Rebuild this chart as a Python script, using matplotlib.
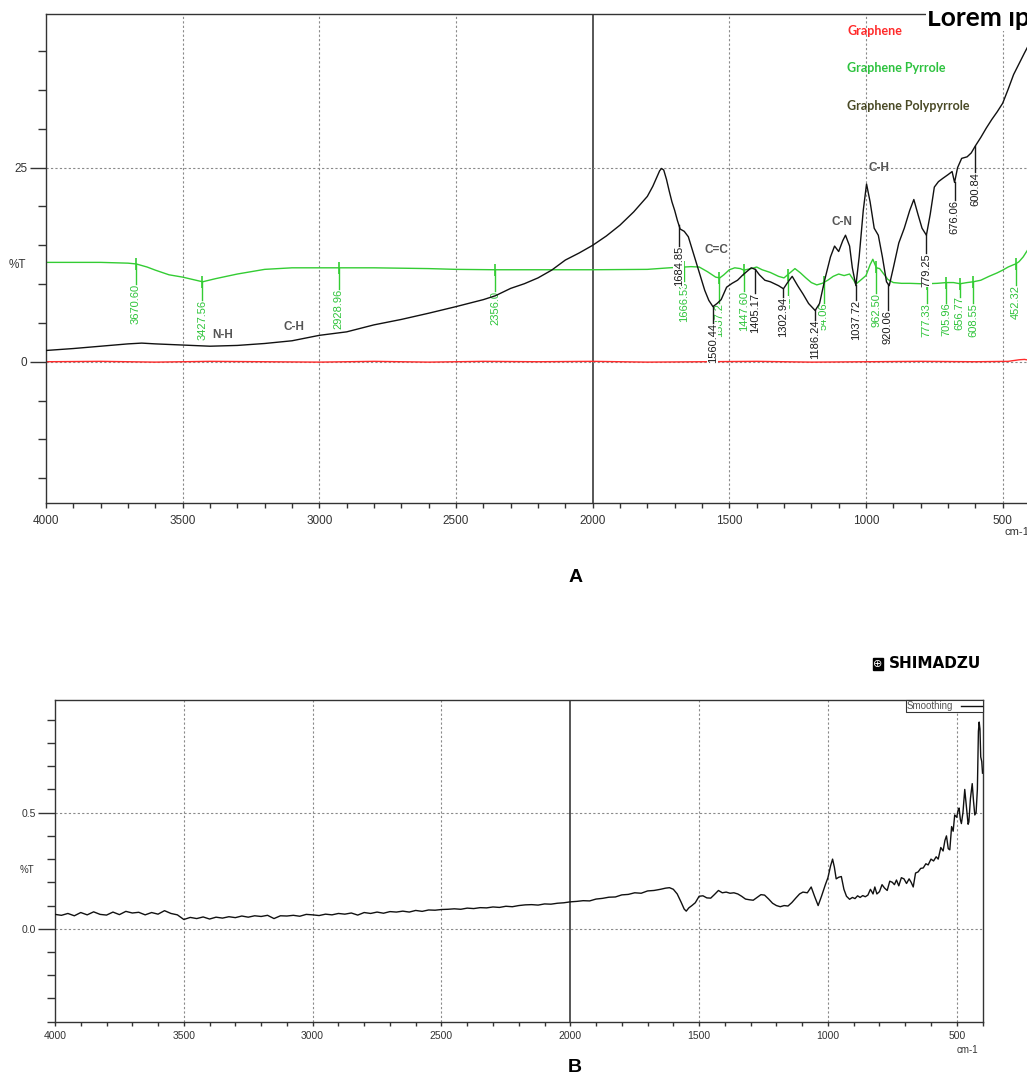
import numpy as np
import matplotlib.pyplot as plt
from matplotlib.patches import Rectangle

# ---- panel A : FTIR spectra (wavenumber cm-1 / %T) ----
wn_gppy = [4000, 3900, 3800, 3700, 3650, 3600, 3500, 3400, 3300, 3200, 3100, 3000, 2900, 2800,
           2700, 2600, 2500, 2400, 2356, 2300, 2250, 2200, 2150, 2100, 2050, 2000, 1950, 1900,
           1850, 1800, 1780, 1765, 1755, 1748, 1740, 1730, 1720, 1710, 1700, 1690, 1680, 1665,
           1650, 1630, 1610, 1590, 1575, 1560,
           1545, 1530, 1510, 1490, 1470, 1450, 1420, 1405, 1390, 1370, 1350, 1320, 1302, 1285,
           1270, 1250, 1230, 1210, 1186, 1170, 1150, 1130, 1115, 1100, 1085, 1075, 1060, 1050,
           1037, 1025, 1010, 998, 985, 970, 955, 940, 925, 915, 900, 880, 860, 840, 825, 810,
           795, 779, 765, 750, 735, 720, 700, 685, 676, 665, 650, 630, 615, 600, 580, 560, 540,
           520, 500, 480, 460, 440, 420, 405]
t_gppy = [1.45, 1.7, 2.0, 2.3, 2.4, 2.3, 2.15, 2.0, 2.1, 2.35, 2.7, 3.4, 3.85, 4.75,
          5.45, 6.25, 7.1, 8.0, 8.5, 9.45, 10.05, 10.8, 11.8, 13.1, 14.0, 15.0, 16.2, 17.6,
          19.3, 21.3, 22.6, 23.8, 24.6, 24.9, 24.7, 23.5, 22.0, 20.6, 19.5, 18.2, 17.1, 16.8,
          16.1, 13.8, 11.5, 9.2, 7.9, 7.1,
          7.5, 8.0, 9.6, 10.1, 10.5, 11.2, 12.1, 11.9, 11.2, 10.5, 10.3, 9.8, 9.4, 10.3,
          11.0, 9.8, 8.7, 7.5, 6.6, 7.5, 10.7, 13.5, 14.9, 14.2, 15.6, 16.3, 14.9, 12.1,
          9.8, 13.5, 19.5, 22.9, 20.6, 17.2, 16.3, 13.5, 10.3, 9.8, 12.1, 15.3, 17.2, 19.5, 20.9, 19.0,
          17.2, 16.3, 19.0, 22.5, 23.2, 23.6, 24.1, 24.5, 23.1, 25.0, 26.2, 26.4, 26.9, 27.8, 28.9, 30.1, 31.2,
          32.2, 33.3, 35.1, 37.0, 38.4, 39.8, 40.8]

wn_pyr = [4000, 3800, 3700, 3670, 3630, 3600, 3550, 3500, 3427, 3380, 3300, 3200, 3100, 3000,
          2929, 2800, 2600, 2500, 2356, 2200, 2000, 1800, 1720, 1666, 1640, 1610, 1580, 1550,
          1535, 1520, 1500, 1480, 1460, 1447, 1420, 1400, 1380, 1350, 1320, 1300, 1280, 1260,
          1240, 1220, 1200, 1180, 1160, 1140, 1120, 1100, 1080, 1060, 1045, 1037, 1020, 1000,
          985, 975, 962, 950, 935, 920, 900, 870, 840, 800, 777, 740, 705, 680, 656, 630, 608,
          580, 550, 520, 500, 480, 460, 452, 440, 425, 405]
t_pyr = [12.8, 12.8, 12.7, 12.6, 12.2, 11.8, 11.2, 10.9, 10.3, 10.7, 11.3, 11.9, 12.1, 12.1,
         12.1, 12.1, 12.0, 11.9, 11.85, 11.85, 11.85, 11.9, 12.1, 12.2, 12.25, 12.2, 11.6, 10.9,
         10.8, 11.2, 11.85, 12.1, 12.0, 11.8, 12.0, 12.2, 11.85, 11.5, 11.0, 10.8, 11.4, 12.0,
         11.45, 10.8, 10.2, 9.9, 10.1, 10.5, 11.0, 11.3, 11.1, 11.3, 10.5, 10.0, 10.5, 11.1,
         12.5, 13.2, 12.1, 12.0, 11.3, 10.6, 10.2, 10.1, 10.1, 10.05, 10.05, 10.1, 10.2, 10.2, 10.05, 10.2, 10.3,
         10.5, 11.0, 11.45, 11.8, 12.2, 12.5, 12.6, 12.9, 13.5, 14.6]

wn_g = [4000, 3800, 3600, 3400, 3200, 3000, 2800, 2600, 2400, 2200, 2000, 1800, 1600, 1400,
        1200, 1000, 800, 600, 480, 440, 420, 405]
t_g = [0.0, 0.05, -0.05, 0.05, 0.0, -0.05, 0.05, -0.05, 0.05, 0.0, 0.05, -0.05, 0.0, 0.05,
       -0.05, 0.0, 0.05, 0.0, 0.05, 0.25, 0.3, 0.2]

# picked peaks (label text, position, top of label in %T)
gppy_peaks = [1684.85, 1560.44, 1405.17, 1302.94, 1186.24, 1037.72, 920.06, 779.25, 676.06, 600.84]
gppy_label_top = [14.9, 5.0, 8.9, 8.4, 5.4, 8.0, 6.7, 14.0, 20.9, 24.4]

pyr_peaks = [3670.60, 3427.56, 2928.96, 2356.0, 1666.53, 1537.2, 1447.60, 1287.0, 1154.06,
             962.50, 777.33, 705.96, 656.77, 608.55, 452.32]
pyr_texts = ['3670.60', '3427.56', '2928.96', '2356.0', '1666.53', '1537.2', '1447.60', '51',
             '54.06', '962.50', '777.33', '705.96', '656.77', '608.55', '452.32']
pyr_label_top = [10.05, 8.0, 9.4, 9.15, 10.35, 7.6, 9.1, 8.4, 7.6, 8.9, 7.6, 7.6, 8.4, 7.6, 9.9]

bands = ['N-H', 'C-H', 'C=C', 'C-N', 'C-H']
band_wn = [3353, 3093, 1546, 1089, 953]
band_t = [3.5, 4.5, 14.4, 18.0, 24.9]

series_names = ['Graphene', 'Graphene Pyrrole', 'Graphene Polypyrrole']
series_colors = ['#ff2a2a', '#2dc23f', '#4a4a26']

# ---- panel B : smoothed spectrum ----
wn_smooth_a = np.arange(4000, 1999, -25)
t_smooth_a = [.062, .058, .066, .056, .070, .060, .073, .062, .059, .072,
              .061, .075, .068, .071, .060, .070, .063, .078, .066, .060,
              .040, .049, .044, .051, .042, .050, .046, .052, .048, .055,
              .050, .056, .053, .058, .044, .056, .055, .058, .054, .062,
              .060, .057, .063, .060, .066, .063, .068, .059, .070, .066,
              .072, .067, .074, .072, .076, .072, .079, .075, .081, .080,
              .083, .084, .086, .084, .089, .087, .091, .090, .094, .092,
              .097, .095, .100, .103, .104, .102, .107, .106, .110, .112,
              .116]
wn_smooth_b = [1975, 1950, 1925, 1900, 1875, 1850, 1825, 1800, 1775, 1750,
               1725, 1700, 1675, 1650, 1630, 1615, 1600, 1585, 1570, 1558,
               1550, 1540, 1528, 1515, 1500, 1485, 1470, 1455, 1440, 1425,
               1410, 1395, 1380, 1365, 1350, 1335, 1320, 1305, 1290, 1275,
               1260, 1246, 1230, 1215, 1200, 1185, 1170, 1155, 1140, 1125,
               1110, 1097, 1080, 1065, 1052, 1038, 1025, 1010, 1000, 990,
               982, 975, 968, 958, 948, 938, 928, 916, 905, 895,
               885, 875, 865, 855, 845, 835, 825, 818, 810, 800,
               790, 780, 770, 760, 750, 742, 734, 725, 715, 705,
               695, 685, 677, 669, 660, 650, 640, 630, 620, 611,
               600, 590, 580, 572, 562, 553, 546, 540, 533, 527,
               520, 514, 508, 500, 495, 491, 486, 482, 476, 469,
               462, 456, 453, 447, 440, 435, 430, 425, 420, 416,
               413, 410, 407, 403, 400]
t_smooth_b = [.118, .121, .120, .128, .131, .136, .137, .146, .148, .155,
              .153, .163, .165, .170, .175, .177, .170, .150, .115, .085,
              .076, .090, .100, .112, .140, .142, .133, .132, .148, .165,
              .155, .158, .153, .155, .150, .140, .128, .125, .123, .135,
              .147, .145, .128, .110, .100, .095, .100, .098, .113, .132,
              .150, .158, .155, .180, .140, .100, .140, .190, .220, .270,
              .300, .265, .215, .222, .225, .170, .140, .127, .135, .130,
              .142, .135, .143, .138, .145, .170, .150, .180, .150, .160,
              .190, .175, .165, .205, .200, .190, .210, .185, .220, .215,
              .195, .215, .200, .180, .240, .245, .260, .262, .280, .275,
              .300, .292, .310, .300, .350, .335, .380, .400, .345, .340,
              .440, .420, .490, .480, .510, .520, .470, .453, .500, .600,
              .520, .450, .460, .560, .625, .550, .490, .500, .600, .850,
              .890, .860, .740, .720, .670]

W, H = 1027, 1079
fig = plt.figure(figsize=(W / 100, H / 100), dpi=100)
plt.rcParams['font.family'] = ['Liberation Sans', 'DejaVu Sans']
axis_col = '#333333'


def px(x0, y0, x1, y1):
    # pixel box -> figure fraction [left, bottom, width, height]
    return [x0 / W, 1 - y1 / H, (x1 - x0) / W, (y1 - y0) / H]


def frame(ax):
    for s in ax.spines.values():
        s.set_color(axis_col)
        s.set_linewidth(1.0)
    for v in [3500, 3000, 2500, 1500, 1000, 500]:
        ax.axvline(v, color='#8a8a8a', lw=0.8, ls=(0, (2, 2)), zorder=1)
    ax.axvline(2000, color='#3a3a3a', lw=1.2, zorder=1)
    ax.set_xticks([4000, 3500, 3000, 2500, 2000, 1500, 1000, 500])
    ax.set_xticks(np.arange(400, 4001, 100), minor=True)
    ax.tick_params(axis='both', which='both', colors=axis_col, labelcolor='#333333', direction='out')


# ---------------- A ----------------
ax = fig.add_axes(px(46, 14, 1030, 503))
ax.set_xlim(4000, 400)
ax.set_ylim(-18.2, 44.8)
frame(ax)
ax.spines['right'].set_visible(False)
for v in [0, 25]:
    ax.axhline(v, color='#8a8a8a', lw=0.8, ls=(0, (2, 2)), zorder=1)
ax.set_yticks([0, 25])
ax.set_yticks([-15, -10, -5, 5, 10, 15, 20, 30, 35, 40], minor=True)
ax.tick_params(axis='y', which='major', length=11.5, width=1, labelsize=8.5, pad=2)
ax.tick_params(axis='y', which='minor', length=5.8, width=1)
ax.tick_params(axis='x', which='both', length=3.6, width=1, labelsize=8.5, pad=5)

ax.plot(wn_g, t_g, color=series_colors[0], lw=1.0, zorder=2)
ax.plot(wn_pyr, t_pyr, color='#33cc33', lw=1.0, zorder=2)

# green peak picks
pyr_wn_inc = wn_pyr[::-1]
pyr_t_inc = t_pyr[::-1]
for p, txt, top in zip(pyr_peaks, pyr_texts, pyr_label_top):
    yc = np.interp(p, pyr_wn_inc, pyr_t_inc)
    ax.plot([p, p], [yc, top], color='#33cc33', lw=1.0, zorder=3)
    ax.plot(p, yc, marker='|', ms=9, mew=1.2, color='#33cc33', zorder=3)
    ax.text(p, top, txt, rotation=90, ha='center', va='top', fontsize=8,
            color='#2ec43a', zorder=3)

# black peak picks (white boxed labels)
gppy_wn_inc = wn_gppy[::-1]
gppy_t_inc = t_gppy[::-1]
for p, top in zip(gppy_peaks, gppy_label_top):
    yc = np.interp(p, gppy_wn_inc, gppy_t_inc)
    ax.plot([p, p], [yc, top], color='#1a1a1a', lw=1.0, zorder=5)
    ax.text(p, top, '%.2f' % p, rotation=90, ha='center', va='top', fontsize=8,
            color='#1a1a1a', zorder=4,
            bbox=dict(facecolor='white', edgecolor='none', pad=0.3))

ax.plot(wn_gppy, t_gppy, color='#111111', lw=1.0, zorder=5)

for b, x, y in zip(bands, band_wn, band_t):
    ax.text(x, y, b, ha='center', va='center', fontsize=8.5, fontweight='bold',
            color='#555555', zorder=6)

fig.text(17 / W, 1 - 265 / H, '%T', ha='center', va='center', fontsize=8.5, color='#333333')
fig.text(1017 / W, 1 - 532 / H, 'cm-1', ha='center', va='center', fontsize=8, color='#333333')

for name, col, yy in zip(series_names, series_colors, [31, 68, 106]):
    fig.text(847 / W, 1 - yy / H, name, ha='left', va='center', fontsize=9,
             fontweight='bold', color=col, family=['Lato', 'DejaVu Sans'])

# title text, its top edge is cut off
fig.text(927 / W, 1 - 26 / H, 'Lorem ipsum', ha='left', va='baseline', fontsize=19,
         fontweight='bold', color='black', family=['Lato', 'DejaVu Sans'],
         bbox=dict(facecolor='white', edgecolor='none', pad=1))
fig.patches.append(Rectangle((915 / W, 1 - 11 / H), 1, 11 / H, transform=fig.transFigure,
                             facecolor='white', edgecolor='none', zorder=10))

fig.text(576 / W, 1 - 578 / H, 'A', ha='center', va='center', fontsize=14, fontweight='bold')

# ---------------- B ----------------
ax2 = fig.add_axes(px(55, 700, 983.3, 1021.7))
ax2.set_xlim(4000, 397)
ax2.set_ylim(-0.4, 0.985)
frame(ax2)
for v in [0, 0.5]:
    ax2.axhline(v, color='#8a8a8a', lw=0.8, ls=(0, (2, 2)), zorder=1)
ax2.set_yticks([0, 0.5])
ax2.set_yticklabels(['0.0', '0.5'])
ax2.set_yticks([-0.4, -0.3, -0.2, -0.1, 0.1, 0.2, 0.3, 0.4, 0.6, 0.7, 0.8, 0.9], minor=True)
ax2.tick_params(axis='y', which='major', length=12, width=1, labelsize=7.5, pad=2)
ax2.tick_params(axis='y', which='minor', length=6, width=1)
ax2.tick_params(axis='x', which='both', length=3, width=1, labelsize=7.5, pad=4)

wn_smooth = np.concatenate([wn_smooth_a, wn_smooth_b])
t_smooth = np.concatenate([t_smooth_a, t_smooth_b])
ax2.plot(wn_smooth, t_smooth, color='#111111', lw=1.0, label='Smoothing', zorder=3)
leg = ax2.legend(loc='upper right', fontsize=7, fancybox=False, framealpha=1,
                 edgecolor=axis_col, borderpad=0.1, borderaxespad=0.0, handlelength=2.2,
                 markerfirst=False, handletextpad=0.8)
leg.get_frame().set_linewidth(0.8)
for t in leg.get_texts():
    t.set_color('#555555')

fig.text(27 / W, 1 - 870 / H, '%T', ha='center', va='center', fontsize=7, color='#333333')
fig.text(967 / W, 1 - 1050 / H, 'cm-1', ha='center', va='center', fontsize=7, color='#333333')

# instrument logo
fig.text(878 / W, 1 - 664 / H, '\u2295', ha='center', va='center', fontsize=8, color='white',
         family='DejaVu Sans', bbox=dict(facecolor='black', edgecolor='black', pad=0.6))
fig.text(889 / W, 1 - 664 / H, 'SHIMADZU', ha='left', va='center', fontsize=11,
         fontweight='heavy', family='DejaVu Sans', color='black')

fig.text(575 / W, 1 - 1068 / H, 'B', ha='center', va='center', fontsize=14, fontweight='bold')

fig.savefig('out.png', dpi=100)
